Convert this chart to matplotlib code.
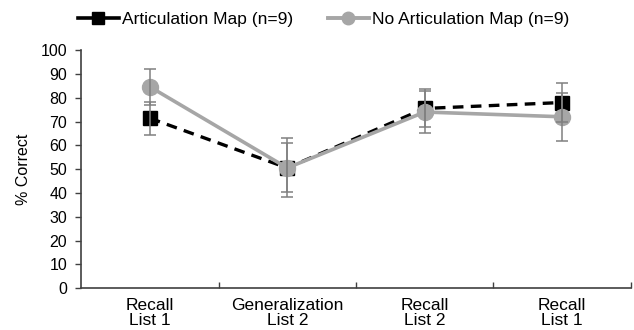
import matplotlib
matplotlib.use("Agg")
import matplotlib.pyplot as plt
from matplotlib.ticker import FixedLocator
from matplotlib.lines import Line2D

plt.rcParams['font.family'] = ['Liberation Sans', 'DejaVu Sans']

categories = ["Recall\nList 1", "Generalization\nList 2", "Recall\nList 2", "Recall\nList 1"]
artic_mean = [71.4, 50.5, 75.5, 78.0]
artic_err = [7.0, 10.3, 8.0, 8.4]
noartic_mean = [84.6, 50.5, 74.0, 72.0]
noartic_err = [7.6, 12.4, 9.0, 10.0]
labels = ["Articulation Map (n=9)", "No Articulation Map (n=9)"]

fig = plt.figure(figsize=(6.34, 3.30), dpi=100)
ax = fig.add_axes([0.128, 0.127, 0.867, 0.721])
x = list(range(len(categories)))

ax.plot(x, artic_mean, color='black', linestyle=(0, (3.2, 2.2)), linewidth=2.4,
        marker='s', markersize=10, zorder=3)
ax.plot(x, noartic_mean, color='#a6a6a6', linestyle='-', linewidth=2.6,
        marker='o', markersize=11.5, zorder=4)
ax.errorbar(x, artic_mean, yerr=artic_err, fmt='none', ecolor='#808080',
            elinewidth=1.1, capsize=4, capthick=1.1, zorder=5)
ax.errorbar(x, noartic_mean, yerr=noartic_err, fmt='none', ecolor='#808080',
            elinewidth=1.1, capsize=4, capthick=1.1, zorder=5)

ax.set_xlim(-0.5, 3.5)
ax.set_ylim(0, 100)
ax.set_yticks(range(0, 101, 10))
ax.set_xticks(x)
ax.set_xticklabels(categories, fontsize=12.5, linespacing=1.0)
ax.xaxis.set_minor_locator(FixedLocator([0.5, 1.5, 2.5, 3.5]))
ax.tick_params(axis='x', which='major', length=0, pad=7)
ax.tick_params(axis='x', which='minor', direction='in', length=4, width=1, color='#404040')
ax.tick_params(axis='y', direction='out', length=4, width=1, color='#404040', labelsize=11.5, pad=6)
ax.set_ylabel("% Correct", fontsize=11.5, labelpad=7)

for s in ['top', 'right']:
    ax.spines[s].set_visible(False)
for s in ['left', 'bottom']:
    ax.spines[s].set_color('#404040')
    ax.spines[s].set_linewidth(1.2)

handles = [
    Line2D([], [], color='black', linewidth=2.6, marker='s', markersize=8.5),
    Line2D([], [], color='#a6a6a6', linewidth=2.8, marker='o', markersize=9),
]
fig.legend(handles, labels, loc='upper center', bbox_to_anchor=(0.51, 1.01), ncol=2,
           frameon=False, fontsize=12.5, handlelength=2.4, columnspacing=2.0,
           handletextpad=0.15)
fig.savefig("out.png", dpi=100)
